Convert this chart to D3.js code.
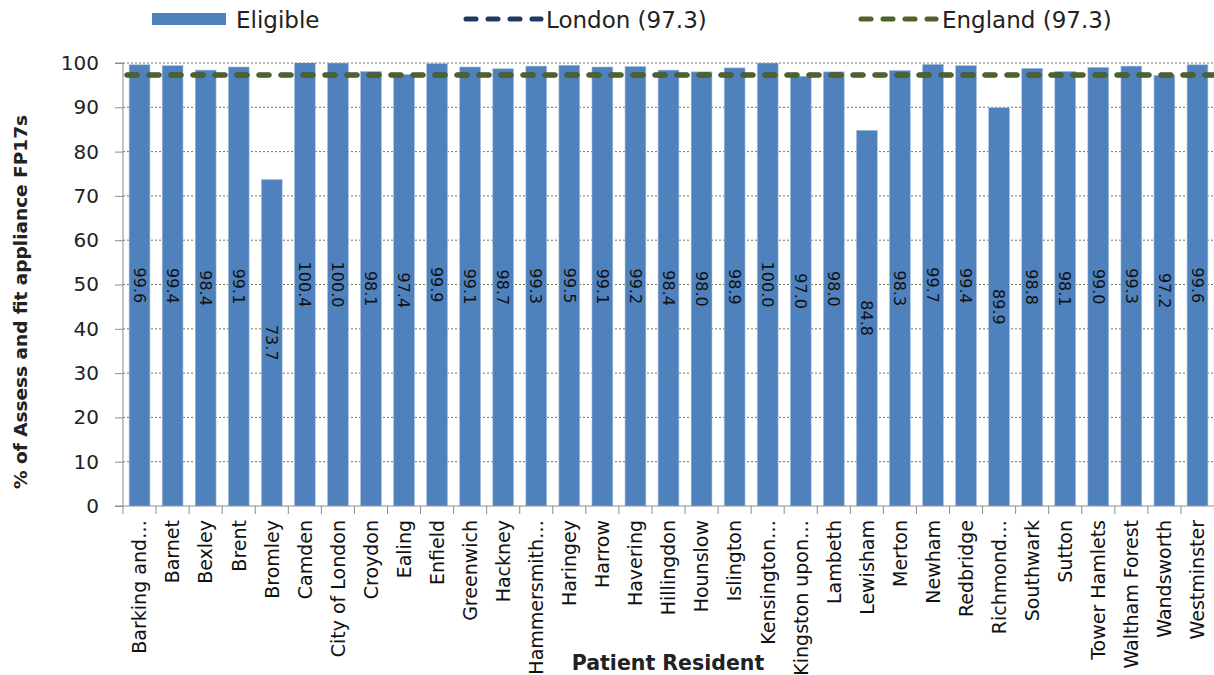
<!DOCTYPE html>
<html>
<head>
<meta charset="utf-8">
<script src="https://cdn.jsdelivr.net/npm/d3@7"></script>
<style>
  html, body { margin: 0; padding: 0; background: #fff; }
  svg { display: block; font-family: "DejaVu Sans", sans-serif; }
</style>
</head>
<body>
<svg id="chart" width="1214" height="675"></svg>
<script>
// Boroughs of patient residence (long names shortened as on the axis)
const boroughs = [
  "Barking and…", "Barnet", "Bexley", "Brent", "Bromley", "Camden", "City of London",
  "Croydon", "Ealing", "Enfield", "Greenwich", "Hackney", "Hammersmith…", "Haringey",
  "Harrow", "Havering", "Hillingdon", "Hounslow", "Islington", "Kensington…",
  "Kingston upon…", "Lambeth", "Lewisham", "Merton", "Newham", "Redbridge",
  "Richmond…", "Southwark", "Sutton", "Tower Hamlets", "Waltham Forest",
  "Wandsworth", "Westminster"
];

// % of Assess and fit appliance FP17s that were eligible
const eligible = [
  99.6, 99.4, 98.4, 99.1, 73.7, 100.4, 100.0, 98.1, 97.4, 99.9, 99.1, 98.7, 99.3,
  99.5, 99.1, 99.2, 98.4, 98.0, 98.9, 100.0, 97.0, 98.0, 84.8, 98.3, 99.7, 99.4,
  89.9, 98.8, 98.1, 99.0, 99.3, 97.2, 99.6
];

// Reference averages
const londonAvg = 97.3;
const englandAvg = 97.3;

const yTicks = [0, 10, 20, 30, 40, 50, 60, 70, 80, 90, 100];

const svg = d3.select("#chart");
const margin = { left: 123, right: 0, top: 63, bottom: 169 };
const W = 1214, H = 675;
const innerW = W - margin.left - margin.right;
const innerH = H - margin.top - margin.bottom;

const x = d3.scaleBand().domain(boroughs).range([0, innerW]).paddingInner(0.37).paddingOuter(0.185);
const y = d3.scaleLinear().domain([0, 100]).range([innerH, 0]);

const g = svg.append("g").attr("transform", `translate(${margin.left},${margin.top})`);

svg.append("defs").append("clipPath").attr("id", "plot-clip")
  .append("rect").attr("x", 0).attr("y", 0).attr("width", innerW).attr("height", innerH);

// dotted gridlines
g.append("g").selectAll("line").data(yTicks.filter(d => d > 0)).join("line")
  .attr("x1", 0).attr("x2", innerW)
  .attr("y1", d => y(d)).attr("y2", d => y(d))
  .attr("stroke", "#6f7a45").attr("stroke-width", 1).attr("stroke-dasharray", "2,2");

// bars (values above 100 are clipped at the top of the plot)
const plot = g.append("g").attr("clip-path", "url(#plot-clip)");
plot.selectAll("rect").data(eligible).join("rect")
  .attr("x", (d, i) => x(boroughs[i]))
  .attr("width", x.bandwidth())
  .attr("y", d => y(d))
  .attr("height", d => innerH - y(d))
  .attr("fill", "#4f81bd")
  .attr("stroke", "#a9c1de").attr("stroke-width", 0.6);

// average lines
const avgLine = (v, colour) => g.append("line")
  .attr("x1", 0).attr("x2", innerW).attr("y1", y(v)).attr("y2", y(v))
  .attr("stroke", colour).attr("stroke-width", 5).attr("stroke-dasharray", "10,12")
  .attr("stroke-linecap", "round").attr("stroke-dashoffset", -4);
avgLine(londonAvg, "#1f3864");
avgLine(englandAvg, "#4f6228");

// value labels, rotated, centred in each bar
g.append("g").selectAll("text").data(eligible).join("text")
  .attr("transform", (d, i) => `translate(${x(boroughs[i]) + x.bandwidth() / 2},${y(Math.min(d, 100) / 2)}) rotate(90)`)
  .attr("text-anchor", "middle").attr("dy", "0.36em")
  .attr("font-size", 16).attr("fill", "#111")
  .text(d => d.toFixed(1));

// y axis
const yAxis = g.append("g").call(
  d3.axisLeft(y).tickValues(yTicks).tickSize(8).tickPadding(16).tickFormat(d3.format("d"))
);
yAxis.select(".domain").attr("stroke", "#8c8c8c").attr("d", `M-8,${innerH}H0V0H-8`);
yAxis.selectAll(".tick line").attr("stroke", "#8c8c8c");
yAxis.selectAll(".tick text").attr("font-size", 20).attr("fill", "#222")
  .attr("font-family", "'DejaVu Sans', sans-serif");

// x axis baseline and boundary ticks
const xg = g.append("g").attr("transform", `translate(0,${innerH})`);
xg.append("line").attr("x1", 0).attr("x2", innerW).attr("stroke", "#8c8c8c");
const gap = (x.step() - x.bandwidth()) / 2;
xg.selectAll("line.tk").data(boroughs).join("line").attr("class", "tk")
  .attr("x1", d => x(d) - gap).attr("x2", d => x(d) - gap)
  .attr("y1", 0).attr("y2", 8).attr("stroke", "#8c8c8c");

// category labels
xg.selectAll("text").data(boroughs).join("text")
  .attr("transform", d => `translate(${x(d) + x.bandwidth() / 2},14) rotate(-90)`)
  .attr("text-anchor", "end").attr("dy", "0.36em")
  .attr("font-size", 19).attr("fill", "#111")
  .text(d => d);

// axis titles
svg.append("text")
  .attr("transform", `translate(668,670)`)
  .attr("text-anchor", "middle").attr("font-size", 20.5).attr("font-weight", "bold").attr("fill", "#222")
  .text("Patient Resident");
svg.append("text")
  .attr("transform", `translate(27,302) rotate(-90)`)
  .attr("text-anchor", "middle").attr("font-size", 18.5).attr("font-weight", "bold").attr("fill", "#222")
  .text("% of Assess and fit appliance FP17s");

// legend
const legend = svg.append("g").attr("font-size", 23).attr("fill", "#222");
legend.append("rect").attr("x", 152).attr("y", 13).attr("width", 74).attr("height", 12).attr("fill", "#4f81bd");
legend.append("text").attr("x", 236).attr("y", 28).text("Eligible");
legend.append("line").attr("x1", 466).attr("x2", 541).attr("y1", 19).attr("y2", 19)
  .attr("stroke", "#1f3864").attr("stroke-width", 5).attr("stroke-dasharray", "10,12")
  .attr("stroke-linecap", "round");
legend.append("text").attr("x", 546).attr("y", 28).text(`London (${londonAvg.toFixed(1)})`);
legend.append("line").attr("x1", 861).attr("x2", 936).attr("y1", 19).attr("y2", 19)
  .attr("stroke", "#4f6228").attr("stroke-width", 5).attr("stroke-dasharray", "10,12")
  .attr("stroke-linecap", "round");
legend.append("text").attr("x", 942).attr("y", 28).text(`England (${englandAvg.toFixed(1)})`);
</script>
</body>
</html>
